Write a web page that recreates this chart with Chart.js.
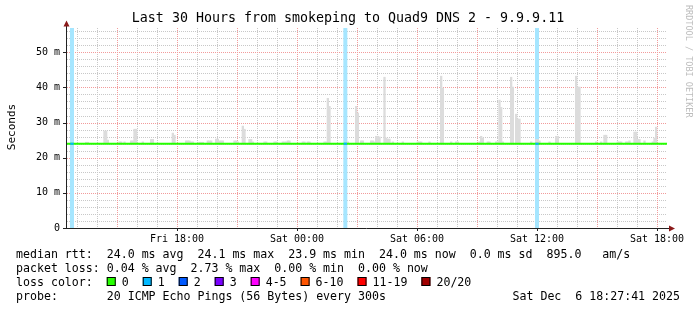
<!DOCTYPE html>
<html>
<head>
<meta charset="utf-8">
<script src="https://cdn.jsdelivr.net/npm/chart.js@4.4.1/dist/chart.umd.min.js"></script>
<style>
  html, body { margin: 0; padding: 0; background: #fff; }
  canvas { display: block; }
</style>
</head>
<body>
<canvas id="smokeChart" width="697" height="310"></canvas>
<script>
// janela de tempo do grafico (30 horas)
const rangeStart = 'Fri 12:30';
const rangeEnd = 'Sat 18:30';
const xTickLabels = ['Fri 18:00', 'Sat 00:00', 'Sat 06:00', 'Sat 12:00', 'Sat 18:00'];
const yTickValues = [0, 10, 20, 30, 40, 50];
const yMax = 56.9;

// mediana e minimo do rtt (ms)
const medianRtt = 24.0;
const minRtt = 23.9;

// fumaca: inicio de cada passo de 5 min e o rtt mais alto (ms)
const smokeTimes = [
  'Fri 13:25', 'Fri 13:30', 'Fri 14:20', 'Fri 14:25', 'Fri 14:30', 'Fri 15:05', 'Fri 15:10', 'Fri 15:20',
  'Fri 15:40', 'Fri 15:45', 'Fri 15:50', 'Fri 15:55', 'Fri 16:15', 'Fri 16:40', 'Fri 16:45', 'Fri 17:45',
  'Fri 17:50', 'Fri 18:25', 'Fri 18:30', 'Fri 18:35', 'Fri 18:40', 'Fri 18:45', 'Fri 19:05', 'Fri 19:10',
  'Fri 19:15', 'Fri 19:30', 'Fri 19:35', 'Fri 19:40', 'Fri 19:55', 'Fri 20:00', 'Fri 20:05', 'Fri 20:10',
  'Fri 20:15', 'Fri 20:50', 'Fri 20:55', 'Fri 21:00', 'Fri 21:15', 'Fri 21:20', 'Fri 21:35', 'Fri 21:40',
  'Fri 21:45', 'Fri 22:20', 'Fri 22:25', 'Fri 22:50', 'Fri 22:55', 'Fri 23:15', 'Fri 23:20', 'Fri 23:25',
  'Fri 23:30', 'Fri 23:35', 'Sat 00:15', 'Sat 00:20', 'Sat 00:30', 'Sat 00:35', 'Sat 01:20', 'Sat 01:25',
  'Sat 01:30', 'Sat 01:35', 'Sat 02:30', 'Sat 02:55', 'Sat 03:00', 'Sat 03:10', 'Sat 03:15', 'Sat 03:40',
  'Sat 03:45', 'Sat 03:50', 'Sat 03:55', 'Sat 04:00', 'Sat 04:05', 'Sat 04:20', 'Sat 04:25', 'Sat 04:30',
  'Sat 04:35', 'Sat 04:45', 'Sat 05:15', 'Sat 06:00', 'Sat 06:05', 'Sat 06:10', 'Sat 06:35', 'Sat 07:10',
  'Sat 07:15', 'Sat 07:40', 'Sat 07:55', 'Sat 08:00', 'Sat 09:05', 'Sat 09:10', 'Sat 09:15', 'Sat 09:30',
  'Sat 09:35', 'Sat 09:55', 'Sat 10:00', 'Sat 10:05', 'Sat 10:10', 'Sat 10:15', 'Sat 10:40', 'Sat 10:45',
  'Sat 10:55', 'Sat 11:00', 'Sat 11:05', 'Sat 11:40', 'Sat 11:55', 'Sat 12:00', 'Sat 12:05', 'Sat 12:35',
  'Sat 12:55', 'Sat 13:00', 'Sat 13:55', 'Sat 14:00', 'Sat 14:05', 'Sat 14:55', 'Sat 15:10', 'Sat 15:20',
  'Sat 15:25', 'Sat 16:00', 'Sat 16:05', 'Sat 16:10', 'Sat 16:25', 'Sat 16:30', 'Sat 16:35', 'Sat 16:50',
  'Sat 16:55', 'Sat 17:00', 'Sat 17:05', 'Sat 17:20', 'Sat 17:45', 'Sat 17:50', 'Sat 17:55'
];
const smokeTops = [
  24.4, 24.4, 27.6, 27.6, 25.0, 24.5, 24.5, 24.5,
  24.8, 24.8, 28.1, 28.1, 24.5, 25.2, 25.2, 27.0,
  26.4, 24.8, 24.8, 24.8, 24.5, 24.5, 24.4, 24.4,
  24.4, 24.8, 24.8, 24.8, 25.3, 25.3, 24.8, 24.8,
  24.8, 24.8, 24.8, 24.5, 29.0, 28.1, 25.2, 25.2,
  24.5, 24.5, 24.5, 24.5, 24.5, 24.5, 24.5, 24.5,
  24.8, 24.8, 24.5, 24.5, 24.5, 24.5, 24.5, 24.5,
  36.9, 34.6, 24.5, 34.6, 32.7, 24.8, 24.8, 24.8,
  24.8, 24.5, 26.1, 26.1, 25.9, 42.9, 25.6, 25.3,
  25.3, 24.5, 24.5, 24.5, 24.5, 24.5, 24.5, 43.2,
  39.8, 24.5, 24.5, 24.5, 24.5, 26.1, 25.6, 24.5,
  24.5, 24.5, 24.5, 36.4, 34.3, 24.5, 42.9, 40.1,
  32.4, 31.0, 31.0, 24.5, 25.2, 25.2, 24.8, 24.5,
  26.1, 26.1, 43.2, 40.1, 40.1, 24.5, 24.5, 26.4,
  26.4, 24.5, 24.5, 24.5, 24.5, 24.5, 24.8, 27.3,
  27.3, 25.2, 25.2, 24.8, 24.5, 25.6, 28.7
];

// passos com perda (1 de 20 pings)
const lossTimes = ['Fri 12:40', 'Fri 12:45', 'Sat 02:20', 'Sat 02:25', 'Sat 11:55', 'Sat 12:00'];

// legenda
const lossLabels = ['0', '1', '2', '3', '4-5', '6-10', '11-19', '20/20'];
const lossColors = ['#26ff00', '#00b8ff', '#0059ff', '#7a00ff', '#ff00ff', '#ff5500', '#ff0000', '#a10000'];
const rttStats = ['24.0', '24.1', '23.9', '24.0', '0.0', '895.0'];
const lossStats = ['0.04', '2.73', '0.00', '0.00'];

const STEP = 5 / 60;
const MONO = "'DejaVu Sans Mono', monospace";
const MINOR = '#c8c8c8';
const MAJOR = '#f29b9b';

function toHours(s) {
  const [day, hm] = s.split(' ');
  const [h, m] = hm.split(':').map(Number);
  return (day === 'Sat' ? 24 : 0) + h + m / 60;
}

const xLabelByHour = {};
xTickLabels.forEach(l => { xLabelByHour[Math.round(toHours(l))] = l; });

const smokeData = smokeTimes.map((t, i) => ({ x: toHours(t) + STEP / 2, y: [minRtt, smokeTops[i]] }));
const lossData = lossTimes.map(t => ({ x: toHours(t) + STEP / 2, y: [0, yMax] }));
const medianData = [
  { x: toHours(rangeStart), y: medianRtt },
  { x: toHours(rangeEnd), y: medianRtt }
];
const lossMedianData = [];
lossTimes.forEach(t => {
  const h = toHours(t);
  lossMedianData.push({ x: h, y: medianRtt }, { x: h + STEP, y: medianRtt }, { x: h + STEP, y: null });
});

// grade pontilhada estilo rrdtool (menor cinza, maior vermelha)
const rrdGrid = {
  id: 'rrdGrid',
  beforeDatasetsDraw(chart) {
    const { ctx, chartArea: a, scales: { x, y } } = chart;
    ctx.save();
    ctx.lineWidth = 1;
    ctx.setLineDash([1, 1]);
    [false, true].forEach(major => {
      ctx.strokeStyle = major ? MAJOR : MINOR;
      ctx.beginPath();
      x.ticks.forEach(t => {
        if ((t.value % 3 === 0) !== major) return;
        const px = Math.round(x.getPixelForValue(t.value)) + 0.5;
        ctx.moveTo(px, a.top);
        ctx.lineTo(px, a.bottom);
      });
      y.ticks.forEach(t => {
        if (t.value === 0 || (t.value % 10 === 0) !== major) return;
        const py = Math.round(y.getPixelForValue(t.value)) + 0.5;
        ctx.moveTo(a.left, py);
        ctx.lineTo(a.right, py);
      });
      ctx.stroke();
    });
    ctx.setLineDash([]);
    // marcas dos eixos
    ctx.strokeStyle = '#222';
    ctx.beginPath();
    x.ticks.forEach(t => {
      if (!xLabelByHour[t.value]) return;
      const px = Math.round(x.getPixelForValue(t.value)) + 0.5;
      ctx.moveTo(px, a.bottom);
      ctx.lineTo(px, a.bottom + 3);
    });
    yTickValues.forEach(v => {
      const py = Math.round(y.getPixelForValue(v)) + 0.5;
      ctx.moveTo(a.left - 4, py);
      ctx.lineTo(a.left, py);
    });
    ctx.stroke();
    ctx.restore();
  }
};

const decor = {
  id: 'decor',
  afterDraw(chart) {
    const { ctx, chartArea: a } = chart;
    ctx.save();

    // eixos e setas
    ctx.strokeStyle = '#222';
    ctx.lineWidth = 1;
    ctx.beginPath();
    ctx.moveTo(a.left - 0.5, a.bottom + 1);
    ctx.lineTo(a.left - 0.5, 24);
    ctx.moveTo(a.left - 3, a.bottom + 0.5);
    ctx.lineTo(669, a.bottom + 0.5);
    ctx.stroke();
    ctx.fillStyle = '#8b1a1a';
    ctx.beginPath();
    ctx.moveTo(a.left - 0.5, 20.5);
    ctx.lineTo(a.left - 3.5, 26.5);
    ctx.lineTo(a.left + 2.5, 26.5);
    ctx.closePath();
    ctx.fill();
    ctx.beginPath();
    ctx.moveTo(675, a.bottom + 0.5);
    ctx.lineTo(669, a.bottom - 2.5);
    ctx.lineTo(669, a.bottom + 3.5);
    ctx.closePath();
    ctx.fill();

    // titulo
    ctx.fillStyle = '#000';
    ctx.font = '13.3px ' + MONO;
    ctx.textAlign = 'center';
    ctx.textBaseline = 'middle';
    ctx.fillText('Last 30 Hours from smokeping to Quad9 DNS 2 - 9.9.9.11', 348, 19);

    // rotulo vertical
    ctx.font = '11px ' + MONO;
    ctx.save();
    ctx.translate(12, 127);
    ctx.rotate(-Math.PI / 2);
    ctx.fillText('Seconds', 0, 0);
    ctx.restore();

    // credito rrdtool
    ctx.save();
    ctx.fillStyle = '#bdbdbd';
    ctx.font = '8.5px ' + MONO;
    ctx.translate(688, 5);
    ctx.rotate(Math.PI / 2);
    ctx.textAlign = 'left';
    ctx.fillText('RRDTOOL / TOBI OETIKER', 0, 0);
    ctx.restore();

    // legenda
    ctx.font = '11.6px ' + MONO;
    ctx.textAlign = 'left';
    ctx.textBaseline = 'alphabetic';
    ctx.fillStyle = '#000';
    const lx = 16;
    ctx.fillText('median rtt:  ' + rttStats[0] + ' ms avg  ' + rttStats[1] + ' ms max  ' + rttStats[2] +
      ' ms min  ' + rttStats[3] + ' ms now  ' + rttStats[4] + ' ms sd  ' + rttStats[5] + '   am/s', lx, 258);
    ctx.fillText('packet loss: ' + lossStats[0] + ' % avg  ' + lossStats[1] + ' % max  ' + lossStats[2] +
      ' % min  ' + lossStats[3] + ' % now', lx, 272);
    ctx.fillText('loss color:', lx, 286);
    const cw = ctx.measureText('0').width;
    let bx = lx + 13 * cw;
    lossLabels.forEach((lab, i) => {
      ctx.fillStyle = lossColors[i];
      ctx.fillRect(bx, 277, 9, 9);
      ctx.strokeStyle = '#000';
      ctx.strokeRect(bx + 0.5, 277.5, 8, 8);
      ctx.fillStyle = '#000';
      const tx = bx + 15;
      ctx.fillText(lab, tx, 286);
      bx = tx + ctx.measureText(lab).width + 14;
    });
    ctx.fillText('probe:       20 ICMP Echo Pings (56 Bytes) every 300s', lx, 300);
    ctx.textAlign = 'right';
    ctx.fillText('Sat Dec  6 18:27:41 2025', 680, 300);

    ctx.restore();
  }
};

const ctx = document.getElementById('smokeChart').getContext('2d');
const smokeChart = new Chart(ctx, {
  type: 'bar',
  data: {
    datasets: [
      {
        type: 'bar', data: lossData, backgroundColor: '#a6e6ff', borderWidth: 0,
        grouped: false, barPercentage: 1, categoryPercentage: 1, order: 3
      },
      {
        type: 'bar', data: smokeData, backgroundColor: '#dcdcdc', borderWidth: 0,
        grouped: false, barPercentage: 1, categoryPercentage: 1, order: 2
      },
      {
        type: 'line', data: medianData, borderColor: '#26ff00', borderWidth: 2,
        pointRadius: 0, tension: 0, order: 1
      },
      {
        type: 'line', data: lossMedianData, borderColor: '#00b8ff', borderWidth: 2,
        pointRadius: 0, tension: 0, spanGaps: false, order: 0
      }
    ]
  },
  options: {
    responsive: false,
    animation: false,
    devicePixelRatio: 1,
    layout: { padding: { left: 0, top: 28, right: 30, bottom: 0 } },
    plugins: { legend: { display: false }, tooltip: { enabled: false }, title: { display: false } },
    scales: {
      x: {
        type: 'linear',
        offset: false,
        min: toHours(rangeStart),
        max: toHours(rangeEnd),
        afterBuildTicks: s => {
          const t = [];
          for (let h = Math.ceil(s.min); h <= s.max; h++) t.push({ value: h });
          s.ticks = t;
        },
        afterFit: s => { s.height = 82; },
        grid: { display: false, drawTicks: false },
        border: { display: false },
        ticks: {
          autoSkip: false, maxRotation: 0, padding: 5, color: '#000',
          font: { family: MONO, size: 10 },
          callback: v => xLabelByHour[v] || ''
        }
      },
      y: {
        type: 'linear',
        min: 0,
        max: yMax,
        afterBuildTicks: s => {
          const t = [];
          for (let v = 0; v <= s.max; v += 2) t.push({ value: v });
          s.ticks = t;
        },
        afterFit: s => { s.width = 67; },
        grid: { display: false, drawTicks: false },
        border: { display: false },
        ticks: {
          autoSkip: false, padding: 7, color: '#000',
          font: { family: MONO, size: 10 },
          callback: v => yTickValues.includes(v) ? (v === 0 ? '0' : v + ' m') : ''
        }
      }
    }
  },
  plugins: [rrdGrid, decor]
});
</script>
</body>
</html>
